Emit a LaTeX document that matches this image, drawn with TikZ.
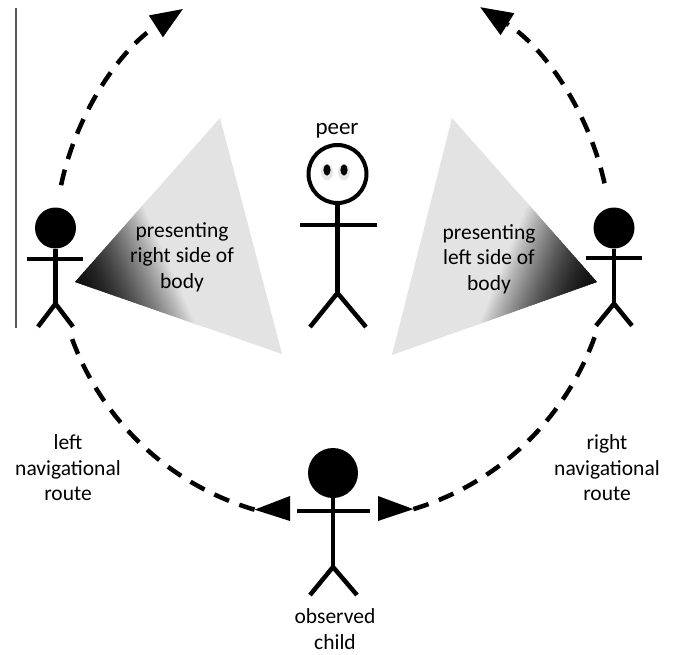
\documentclass[tikz,border=0pt]{standalone}
\usepackage{fontspec}
\setmainfont{Carlito}
\usetikzlibrary{arrows.meta,calc}
\definecolor{conelight}{gray}{0.89}
\definecolor{conedark}{gray}{0.06}
\definecolor{rulegray}{gray}{0.35}

\begin{document}
\begin{tikzpicture}[x=1pt,y=-1pt,
  limb/.style={line width=4.5pt, line cap=butt},
  solidhead/.style={circle, fill=black, inner sep=0pt, minimum size=#1},
  openhead/.style={circle, draw=black, line width=4pt, inner sep=0pt, minimum size=#1},
  route/.style={line width=4.5pt, dash pattern=on 16pt off 11pt},
  bigtip/.style={-{Triangle[length=32pt,width=26pt,line width=0pt]}},
  caption/.style={align=center, font=\fontsize{21.5}{25.5}\selectfont, inner sep=0pt},
]
% canvas
\fill[white] (0,0) rectangle (674,655);
\useasboundingbox (0,0) rectangle (674,655);

% thin rule at the left edge
\draw[rulegray, line width=1.3pt] (16,8) -- (16,328);

% ---------- viewing cones ----------
\coordinate (ltip) at (75,282);
\coordinate (ltop) at (220,118);
\coordinate (lbot) at (282,354);
\fill[conelight] (ltip) -- (ltop) -- (lbot) -- cycle;
\begin{scope}
  \clip (ltip) -- (ltop) -- (lbot) -- cycle;
  \begin{scope}[shift={(ltip)}, rotate=23.8]
    \foreach \s in {0,2,...,100} {
      \pgfmathsetmacro\pc{min(100,100*(\s/94)^1.6)}
      \fill[conelight!\pc!conedark] (\s-1,-260) rectangle (\s+2.3,260);
    }
  \end{scope}
\end{scope}

\coordinate (rtip) at (597,282);
\coordinate (rtop) at (452,118);
\coordinate (rbot) at (392,355);
\fill[conelight] (rtip) -- (rtop) -- (rbot) -- cycle;
\begin{scope}
  \clip (rtip) -- (rtop) -- (rbot) -- cycle;
  \begin{scope}[shift={(rtip)}, rotate=158]
    \foreach \s in {0,2,...,100} {
      \pgfmathsetmacro\pc{min(100,100*(\s/94)^1.6)}
      \fill[conelight!\pc!conedark] (\s-1,-260) rectangle (\s+2.3,260);
    }
  \end{scope}
\end{scope}

\node[caption] (lcone) at (182,257) {presenting\\right side of\\body};
\node[caption] (rcone) at (489,259) {presenting\\left side of\\body};

% ---------- left figure ----------
\node[solidhead=41pt] (lh) at (55.5,228) {};
\draw[limb] (lh.south) -- ++(0,55) coordinate (lhip);
\draw[limb] ($(lh)+(-28.5,31)$) -- ++(56,0);
\draw[limb, line join=round] ($(lhip)+(-17.5,23)$) -- (lhip) -- ++(17.5,23);

% ---------- right figure ----------
\node[solidhead=41pt] (rh) at (614,228) {};
\draw[limb] (rh.south) -- ++(0,55) coordinate (rhip);
\draw[limb] ($(rh)+(-28,30)$) -- ++(56,0);
\draw[limb, line join=round] ($(rhip)+(-18,22)$) -- (rhip) -- ++(18,22);

% ---------- peer ----------
\node[font=\fontsize{23}{27}\selectfont, inner sep=0pt] (peerlabel) at (337,131) {peer};
\node[openhead=58pt] (ph) at (337.5,174) {};
\fill[black, opacity=0.10] (327,172) ellipse [x radius=6, y radius=8.5];
\fill[black, opacity=0.10] (344,172) ellipse [x radius=6, y radius=8.5];
\fill (327,170) ellipse [x radius=3.6, y radius=5.6];
\fill (344,170) ellipse [x radius=3.6, y radius=5.6];
\draw[limb] ($(ph.south)+(0,-2)$) -- (337.5,293) coordinate (phip);
\draw[limb] (300,225) -- (377,225);
\draw[limb, line join=round] ($(phip)+(-27.5,34)$) -- (phip) -- ++(28.5,34);

% ---------- observed child ----------
\node[solidhead=50pt] (ch) at (333,473) {};
\draw[limb] (ch.south) -- (333,567) coordinate (chip);
\draw[limb] ($(ch)+(-36,38)$) -- ++(73,0);
\draw[limb, line join=round] ($(chip)+(-23,28)$) -- (chip) -- ++(24,28);
\node[caption] (childlabel) at (335,629) {observed\\child};

% ---------- navigational routes ----------
\coordinate (C) at (333,243);
\coordinate (ltrail) at ([shift={(106.4:278)}]C);
\coordinate (rtrail) at ([shift={(73.2:278)}]C);

% arrowheads leaving the observed child
\fill (ltrail) -- (290,496) -- (290,521) -- cycle;
\fill (rtrail) -- (378,496) -- (378,521) -- cycle;

\draw[route] (ltrail) arc[start angle=106.4, end angle=162, radius=278];
\draw[route] (rtrail) arc[start angle=73.2, end angle=18.2, radius=278];

% routes continuing past the side figures
\draw[route, bigtip] ([shift={(192:278)}]C) arc[start angle=192, end angle=237.3, radius=278];
\draw[route, bigtip] ([shift={(347.6:278)}]C) arc[start angle=347.6, end angle=302, radius=278];

\node[caption] (lroute) at (68,468) {left\\navigational\\route};
\node[caption] (rroute) at (607,468) {right\\navigational\\route};
\end{tikzpicture}
\end{document}
